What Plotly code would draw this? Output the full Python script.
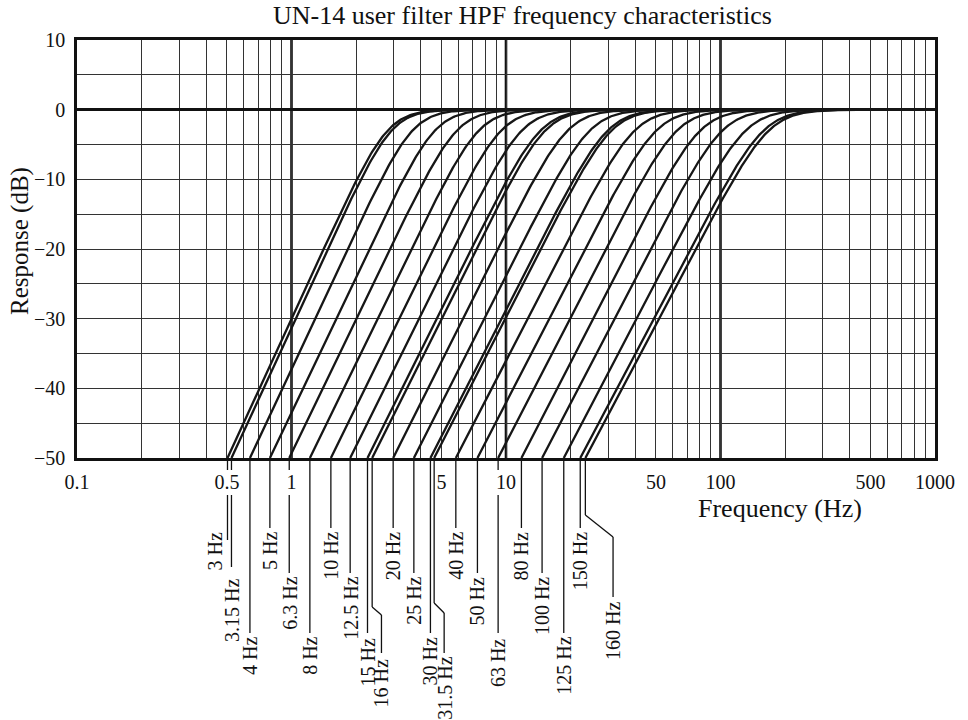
import numpy as np
import plotly.graph_objects as go

# Cutoff settings of the user HPF, lowest to highest
filter_labels = ["3 Hz", "3.15 Hz", "4 Hz", "5 Hz", "6.3 Hz", "8 Hz", "10 Hz",
                 "12.5 Hz", "15 Hz", "16 Hz", "20 Hz", "25 Hz", "30 Hz", "31.5 Hz",
                 "40 Hz", "50 Hz", "63 Hz", "80 Hz", "100 Hz", "125 Hz", "150 Hz",
                 "160 Hz"]
# Frequency-axis reading where each response reaches -50 dB
f_at_minus50 = [0.503, 0.525, 0.640, 0.793, 0.976, 1.218, 1.526, 1.877, 2.261,
                2.377, 2.978, 3.719, 4.443, 4.624, 5.836, 7.359, 9.189, 11.80,
                14.73, 18.59, 22.19, 23.44]
# Skirt steepness of each response, dB per decade
skirt_slope = [67, 67, 66, 65, 64, 63.5, 63, 62.5, 62, 62, 61.5, 61, 60.5, 60.5,
               60, 60, 60, 60, 59.5, 59, 58.5, 58.5]

x_tick_vals = [0.1, 0.5, 1, 5, 10, 50, 100, 500, 1000]
x_tick_text = ["0.1", "0.5", "1", "5", "10", "50", "100", "500", "1000"]
y_tick_vals = [10, 0, -10, -20, -30, -40, -50]

# ---- label leader geometry (pixels below the bottom of the plot area) ----
leader_end = [82, 109, 175, 70, 115, 175, 70, 115, 175, 195, 70, 115, 175, 195,
              70, 115, 175, 70, 115, 175, 70, 139]
text_top = [72, 119, 177, 72, 117, 177, 72, 117, 179, 199, 72, 117, 177, 197,
            72, 117, 179, 72, 117, 177, 72, 142]
text_dx = [-12] + [0] * 21
# leaders that step sideways: index -> (start drop, end drop, sideways px)
leader_jogs = {9: (149, 157, 9.3), 13: (145, 155, 10.0), 21: (57, 79, 27.7)}

W, H = 968, 720
M_L, M_R, M_T, M_B = 77, 33, 40, 262
PLOT_W = W - M_L - M_R
PLOT_H = H - M_T - M_B
PX_PER_DEC = PLOT_W / 4.0

SERIF = "Liberation Serif, Times New Roman, serif"


def py(drop):
    return -drop / PLOT_H


def shift_f(f, dx):
    return f * 10 ** (dx / PX_PER_DEC)


fig = go.Figure()

# Butterworth-shaped high-pass magnitude for each setting
for name, f50, slope in zip(filter_labels, f_at_minus50, skirt_slope):
    n = slope / 20.0
    fc = f50 * (1e5 - 1) ** (1 / (2 * n))
    f = np.logspace(np.log10(f50), 3, 500)
    db = -10 * np.log10(1 + (fc / f) ** (2 * n))
    fig.add_trace(go.Scatter(x=f, y=db, mode="lines", name=name,
                             line=dict(color="#161616", width=2.3),
                             hoverinfo="skip", showlegend=False))

shapes = []
# heavier decade lines
for xv in [1, 10, 100]:
    shapes.append(dict(type="line", xref="x", yref="paper", x0=xv, x1=xv,
                       y0=0, y1=1, layer="below",
                       line=dict(color="#111", width=2.6)))

# tick labels that leader lines pass behind: (value, half-width px)
tick_halfwidth = {0.5: 13, 1: 5, 5: 5, 10: 10, 50: 10}
gap_top, gap_bot = 12, 37

annotations = []
for i, (name, f50) in enumerate(zip(filter_labels, f_at_minus50)):
    lw = dict(color="#111", width=1.3)
    x0 = f50
    # split around a tick label if the leader passes through it
    blocked = any(abs(np.log10(f50) - np.log10(t)) * PX_PER_DEC < hw
                  for t, hw in tick_halfwidth.items())
    if i in leader_jogs:
        a, b, dx = leader_jogs[i]
        x1 = shift_f(f50, dx)
        segs = [(x0, 0, x0, a), (x0, a, x1, b), (x1, b, x1, leader_end[i])]
        xt = x1
    else:
        segs = [(x0, 0, x0, leader_end[i])]
        xt = f50
    if blocked:
        s = segs[0]
        segs = [(s[0], 0, s[0], gap_top), (s[0], gap_bot, s[2], s[3])] + segs[1:]
    for (xa, ya, xb, yb) in segs:
        shapes.append(dict(type="line", xref="x", yref="paper", x0=xa, x1=xb,
                           y0=py(ya), y1=py(yb), line=lw, layer="above"))
    annotations.append(dict(
        text=name, xref="x", yref="paper",
        x=np.log10(shift_f(xt, text_dx[i])), y=py(text_top[i]),
        xanchor="center", yanchor="top", textangle=-90, showarrow=False,
        font=dict(family=SERIF, size=20, color="#111")))

annotations.append(dict(
    text="UN-14 user filter HPF frequency characteristics",
    xref="paper", yref="paper", x=(522 - M_L) / PLOT_W, y=(PLOT_H + M_T - 16) / PLOT_H,
    xanchor="center", yanchor="middle", showarrow=False,
    font=dict(family=SERIF, size=26, color="#111")))
annotations.append(dict(
    text="Frequency (Hz)", xref="paper", yref="paper",
    x=(780 - M_L) / PLOT_W, y=-(509 - M_T - PLOT_H) / PLOT_H,
    xanchor="center", yanchor="middle", showarrow=False,
    font=dict(family=SERIF, size=26, color="#111")))
annotations.append(dict(
    text="Response (dB)", xref="paper", yref="paper",
    x=(20 - M_L) / PLOT_W, y=(PLOT_H + M_T - 241) / PLOT_H,
    xanchor="center", yanchor="middle", textangle=-90, showarrow=False,
    font=dict(family=SERIF, size=25, color="#111")))

fig.update_layout(
    width=W, height=H,
    margin=dict(l=M_L, r=M_R, t=M_T, b=M_B, pad=0),
    paper_bgcolor="white", plot_bgcolor="white",
    showlegend=False,
    shapes=shapes, annotations=annotations,
    xaxis=dict(type="log", range=[-1, 3], tickvals=x_tick_vals, ticktext=x_tick_text,
               showgrid=True, gridcolor="#333", gridwidth=1.2,
               minor=dict(dtick="D1", showgrid=True, gridcolor="#333", gridwidth=1.2,
                          ticks=""),
               ticks="", ticklabelstandoff=4,
               showline=True, linecolor="#111", linewidth=2.6, mirror=True,
               zeroline=False,
               tickfont=dict(family=SERIF, size=20, color="#111")),
    yaxis=dict(range=[-50, 10], tickvals=y_tick_vals,
               showgrid=True, gridcolor="#333", gridwidth=1.2,
               minor=dict(dtick=5, showgrid=True, gridcolor="#333", gridwidth=1.2,
                          ticks=""),
               ticks="", ticklabelstandoff=5,
               zeroline=True, zerolinecolor="#111", zerolinewidth=2.6,
               showline=True, linecolor="#111", linewidth=2.6, mirror=True,
               tickfont=dict(family=SERIF, size=20, color="#111")),
)

fig.write_html("out.html")
